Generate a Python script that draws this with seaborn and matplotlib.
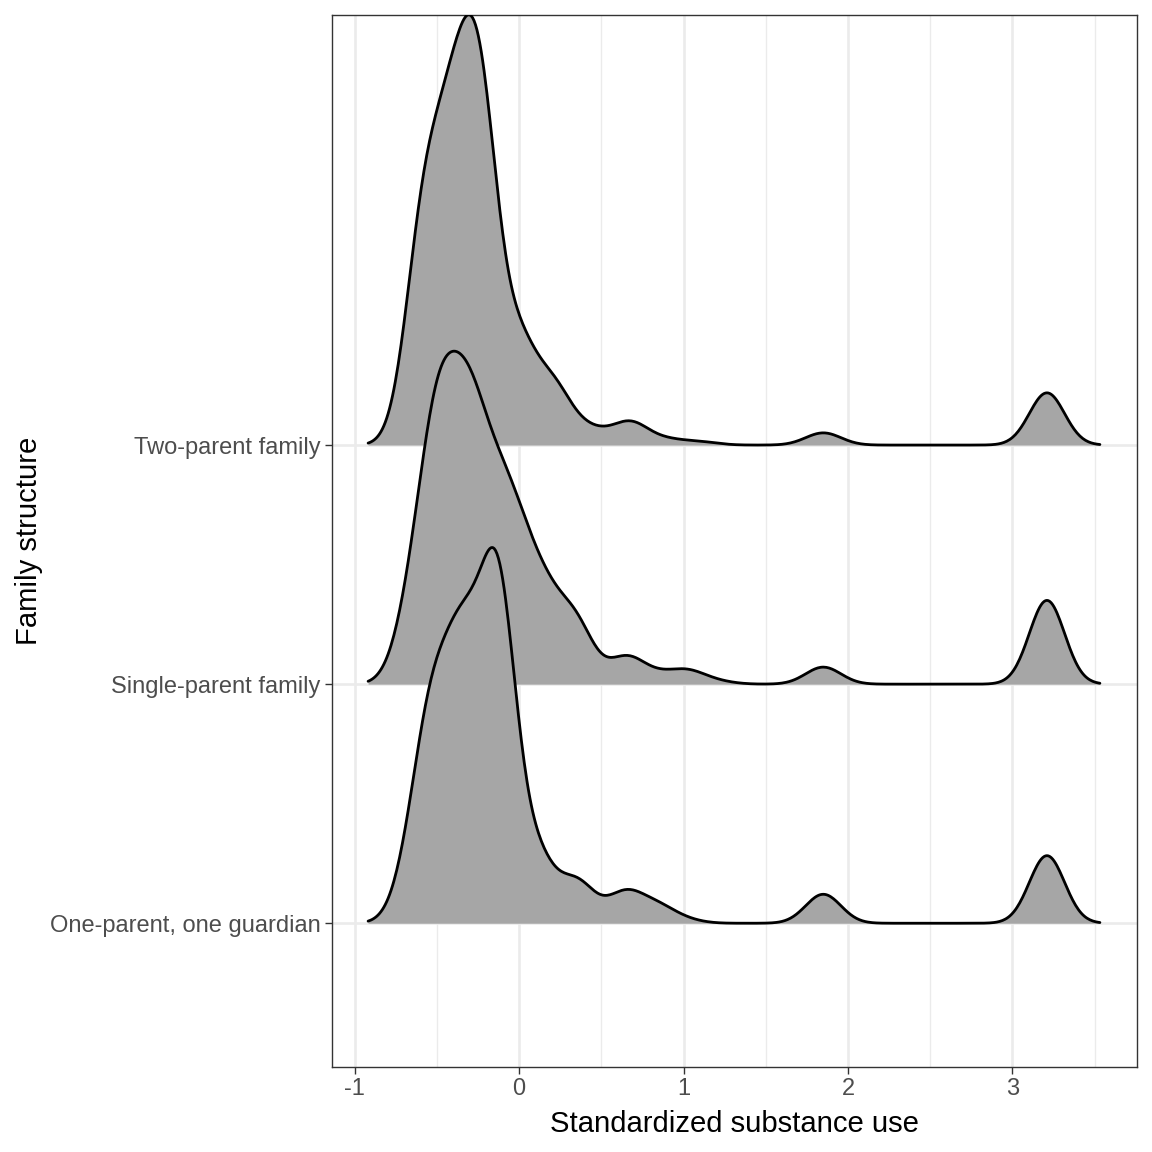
import numpy as np
import matplotlib
matplotlib.use("Agg")
import matplotlib.pyplot as plt
import matplotlib.transforms as mtransforms
import seaborn as sns

# substance-use score levels and their weights, per family structure
two_vals = [-0.65, -0.60, -0.55, -0.50, -0.45, -0.40, -0.35, -0.30, -0.25, -0.20, -0.15, -0.05, 0.00,
            0.05, 0.20, 0.25, 0.40, 0.45, 0.65, 0.70, 0.90, 1.10, 1.85, 3.21]
two_wts = [1.2, 34.4, 16.3, 4.5, 14.8, 34.3, 14.4, 11.3, 40.4, 33.2, 0.9, 0.4, 20.3,
           2.8, 11.0, 3.2, 1.7, 2.0, 3.1, 3.0, 1.3, 0.8, 3.2, 13.7]

single_vals = [-0.65, -0.55, -0.50, -0.45, -0.40, -0.35, -0.30, -0.25, -0.20, -0.15, -0.10, -0.05, 0.00,
               0.05, 0.10, 0.15, 0.20, 0.25, 0.30, 0.35, 0.40, 0.65, 0.80, 0.85, 1.00, 1.05, 1.20, 1.85, 3.21]
single_wts = [17.5, 8.0, 45.5, 6.1, 10.5, 23.0, 24.7, 12.5, 10.8, 13.1, 12.1, 11.8, 11.8,
              6.5, 4.3, 8.7, 7.4, 0.7, 0.4, 13.8, 0.9, 7.2, 0.9, 1.3, 2.2, 1.5, 0.7, 4.8, 23.6]

one_vals = [-0.65, -0.60, -0.55, -0.50, -0.45, -0.40, -0.35, -0.30, -0.25, -0.20, -0.15, -0.10,
            0.10, 0.15, 0.35, 0.40, 0.60, 0.65, 0.80, 0.85, 1.00, 1.85, 3.21]
one_wts = [10.9, 1.5, 23.5, 21.2, 3.3, 5.3, 37.9, 18.7, 1.2, 1.4, 47.2, 40.8,
           12.6, 3.9, 9.8, 1.0, 1.2, 6.7, 1.4, 3.0, 0.9, 7.8, 18.2]

groups = ["Two-parent family", "Single-parent family", "One-parent, one guardian"]
group_data = [(two_vals, two_wts), (single_vals, single_wts), (one_vals, one_wts)]
group_pos = [3, 2, 1]

BW = 0.107
CLIP = (-0.918, 3.532)

sns.set_style("white")
plt.rcParams["font.family"] = ["Liberation Sans", "DejaVu Sans"]
plt.rcParams["axes.unicode_minus"] = False

fig, ax = plt.subplots(figsize=(11.52, 11.52), dpi=100)
fig.subplots_adjust(left=331.5 / 1152, right=1136.5 / 1152, bottom=1 - 1066.7 / 1152, top=1 - 14.7 / 1152)

S = None
z = 2
for (vals, wts), base in zip(group_data, group_pos):
    vals = np.array(vals)
    wts = np.array(wts)
    f = BW / np.sqrt(np.cov(vals, aweights=wts))
    nc, nl = len(ax.collections), len(ax.lines)
    sns.kdeplot(x=vals, weights=wts, bw_method=f, clip=CLIP, cut=10, gridsize=512,
                fill=True, color="#A6A6A6", alpha=1, linewidth=0, ax=ax)
    sns.kdeplot(x=vals, weights=wts, bw_method=f, clip=CLIP, cut=10, gridsize=512,
                fill=False, color="black", linewidth=2.0, ax=ax)
    # shared height scale: tallest ridge reaches 1.8 rows
    if S is None:
        S = 1.8 / ax.lines[-1].get_ydata().max()
    tr = mtransforms.Affine2D().scale(1, S).translate(0, base) + ax.transData
    for art in ax.collections[nc:]:
        art.set_transform(tr)
        art.set_zorder(z)
    for art in ax.lines[nl:]:
        art.set_transform(tr)
        art.set_zorder(z + 1)
    z += 2

ax.set_xlim(-1.1405, 3.7545)
ax.set_ylim(0.4, 4.8)
ax.set_xticks([-1, 0, 1, 2, 3])
ax.set_xticklabels(["-1", "0", "1", "2", "3"])
ax.set_xticks([-0.5, 0.5, 1.5, 2.5, 3.5], minor=True)
ax.set_yticks(group_pos)
ax.set_yticklabels(groups)
ax.set_axisbelow(True)
ax.grid(which="major", color="#EBEBEB", linewidth=1.9)
ax.grid(which="minor", axis="x", color="#EBEBEB", linewidth=0.95)
ax.tick_params(which="major", direction="out", length=5, width=1, color="#333333",
               labelcolor="#4D4D4D", labelsize=17, pad=3, bottom=True, left=True)
ax.tick_params(which="minor", length=0)
for sp in ax.spines.values():
    sp.set_color("#333333")
    sp.set_linewidth(1.0)
ax.set_xlabel("Standardized substance use", fontsize=21.1, color="black", labelpad=7.5)
ax.set_ylabel("Family structure", fontsize=21.1, color="black", labelpad=5)

fig.savefig("out.png", dpi=100)
